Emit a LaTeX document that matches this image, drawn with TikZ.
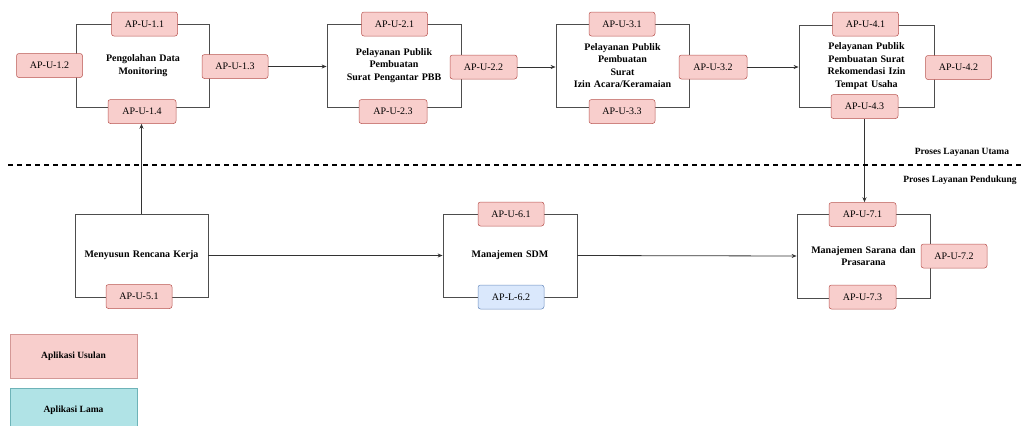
\documentclass[tikz,border=0pt]{standalone}
\usepackage{fontspec}
\setmainfont{Liberation Serif}
\usetikzlibrary{arrows.meta}
\definecolor{pinkfill}{HTML}{F8CECC}
\definecolor{pinkline}{HTML}{B85450}
\definecolor{bluefill}{HTML}{DAE8FC}
\definecolor{blueline}{HTML}{6C8EBF}
\definecolor{cyanfill}{HTML}{B0E3E6}
\definecolor{cyanline}{HTML}{0E8088}
\definecolor{boxline}{HTML}{4D4D4D}
\tikzset{
  procbox/.style={draw=boxline, line width=0.8pt, rectangle, minimum width=133pt, minimum height=83pt,
    align=center, font=\bfseries\fontsize{10}{12.5}\selectfont, inner sep=2pt, text width=124pt},
  appnew/.style={draw=pinkline, line width=0.5pt, fill=pinkfill, rounded corners=2.5pt, minimum width=66pt,
    minimum height=24pt, font=\fontsize{10}{11}\selectfont, inner sep=1pt},
  appold/.style={appnew, draw=blueline, fill=bluefill},
  legendbox/.style={line width=0.5pt, minimum width=127pt, minimum height=44pt, font=\bfseries\fontsize{9.5}{11}\selectfont},
  flow/.style={draw=black!80, line width=0.8pt, -{Stealth[length=5pt,width=4pt]}},
  lanetext/.style={font=\bfseries\fontsize{9.5}{11}\selectfont, inner sep=0pt}
}
\begin{document}
\begin{tikzpicture}[x=1pt,y=-1pt]
\useasboundingbox (0,0) rectangle (1021,426);
% process boxes
\node[procbox] (b1) at (143,65.5) {Pengolahan Data\\Monitoring};
\node[procbox, minimum width=134pt] (b2) at (394,65.5) {Pelayanan Publik\\Pembuatan\\Surat Pengantar PBB};
\node[procbox] (b3) at (622.5,65.5) {Pelayanan Publik\\Pembuatan\\Surat\\Izin Acara/Keramaian};
\node[procbox, minimum width=135pt, minimum height=82pt] (b4) at (866.5,66) {Pelayanan Publik\\Pembuatan Surat\\Rekomendasi Izin\\Tempat Usaha};
\node[procbox] (b5) at (141.5,255.5) {Menyusun Rencana Kerja};
\node[procbox, minimum width=134pt] (b6) at (510,255.5) {Manajemen SDM};
\node[procbox, minimum height=84pt] (b7) at (863.5,256) {Manajemen Sarana dan\\Prasarana};
% application labels
\node[appnew] (n11) at (144.5,24) {AP-U-1.1};
\node[appnew] (n12) at (49.5,65.5) {AP-U-1.2};
\node[appnew] (n13) at (235,66.5) {AP-U-1.3};
\node[appnew, minimum width=68pt] (n14) at (142,111.5) {AP-U-1.4};
\node[appnew] (n21) at (394.5,24) {AP-U-2.1};
\node[appnew, minimum width=67pt] (n22) at (483.5,67) {AP-U-2.2};
\node[appnew, minimum width=68pt] (n23) at (393,111.5) {AP-U-2.3};
\node[appnew] (n31) at (622,24) {AP-U-3.1};
\node[appnew, minimum width=68pt] (n32) at (713,67) {AP-U-3.2};
\node[appnew] (n33) at (622,111.5) {AP-U-3.3};
\node[appnew] (n41) at (865.5,24) {AP-U-4.1};
\node[appnew] (n42) at (958.5,67.5) {AP-U-4.2};
\node[appnew, minimum width=67pt] (n43) at (864.5,106.5) {AP-U-4.3};
\node[appnew] (n51) at (139,296.5) {AP-U-5.1};
\node[appnew] (n61) at (511,214) {AP-U-6.1};
\node[appold] (n62) at (511,297) {AP-L-6.2};
\node[appnew, minimum width=67pt] (n71) at (862.5,214.5) {AP-U-7.1};
\node[appnew] (n72) at (954,256) {AP-U-7.2};
\node[appnew, minimum width=67pt] (n73) at (862.5,297) {AP-U-7.3};
% connectors
\draw[flow] (n13.east) -- (n13.east -| b2.west);
\draw[flow] (n22.east) -- (n22.east -| b3.west);
\draw[flow] (n32.east) -- (n32.east -| b4.west);
\draw[flow] (n43.south) -- (n43.south |- n71.north);
\draw[flow] (b5.north) -- (b5.north |- n14.south);
\draw[flow] (b5.east) -- (b6.west);
\draw[flow] (b6.east) -- (b7.west);
% lane separator
\coordinate (dl) at (8,165);
\coordinate (dr) at (1021,165);
\draw[black, line width=1.2pt, dash pattern=on 5pt off 4pt] (dl) -- (dr);
\node[lanetext] (lu) at (962,152) {Proses Layanan Utama};
\node[lanetext] (lp) at (960,180) {Proses Layanan Pendukung};
% legend
\node[legendbox, draw=pinkline!60, fill=pinkfill] (leg1) at (73.5,356) {Aplikasi Usulan};
\node[legendbox, draw=cyanline!60, fill=cyanfill] (leg2) at (73.5,410) {Aplikasi Lama};
\end{tikzpicture}
\end{document}
